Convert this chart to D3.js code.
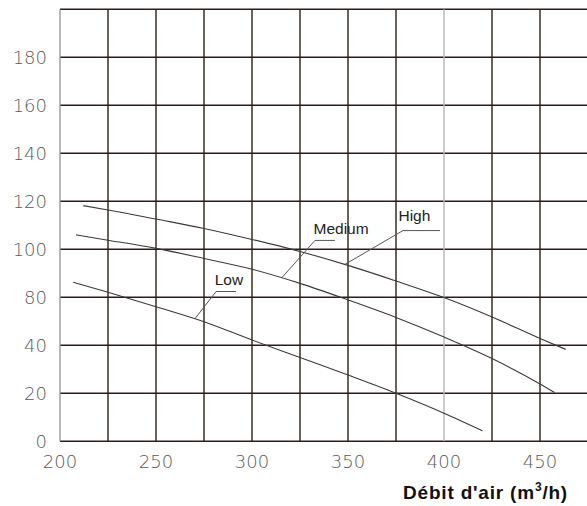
<!DOCTYPE html>
<html>
<head>
<meta charset="utf-8">
<script src="https://cdn.jsdelivr.net/npm/d3@7"></script>
<style>
  body { margin: 0; background: #fff; }
  svg { display: block; }
</style>
</head>
<body>
<div id="chart"></div>
<script>
// chart values
const xGrid = [200, 225, 250, 275, 300, 325, 350, 375, 400, 425, 450, 475];
const xTicks = [200, 250, 300, 350, 400, 450];
const yGrid = [0, 20, 40, 80, 100, 120, 140, 160, 180, 200];
const yTicks = [0, 20, 40, 80, 100, 120, 140, 160, 180];

const highX = [212.1, 225, 250, 275, 300, 325, 350, 375, 400, 425, 450, 463.4];
const highY = [118.2, 116.4, 112.6, 108.7, 104.1, 99.1, 93.3, 86.8, 79.8, 63.6, 45.7, 38.3];
const mediumX = [208.3, 225, 250, 275, 300, 325, 350, 375, 400, 425, 450, 457.6];
const mediumY = [106.0, 103.8, 100.4, 96.2, 91.7, 85.8, 77.8, 63.2, 46.9, 34.5, 23.9, 20.3];
const lowX = [206.9, 225, 250, 275, 300, 325, 350, 375, 400, 420];
const lowY = [86.3, 82.1, 72.2, 59.7, 44.4, 34.9, 27.6, 20, 11.7, 4.4];

const seriesNames = ["High", "Medium", "Low"];
// label anchor and leader points, in data units
const labelPos = [[384.6, 111.9], [346.4, 106.3], [288, 85.2]];
const leaders = [
  [[397.9, 107.8], [378.6, 107.8], [348.4, 93.7]],
  [[343.2, 103.7], [332.8, 103.7], [315.6, 88.2]],
  [[291.7, 82.4], [281.3, 82.4], [270.3, 62.2]]
];

const width = 587, height = 506;
const plotLeft = 60, plotRight = 588, plotBottom = 441.3, plotTop = 9.3;

const svg = d3.select("#chart").append("svg")
    .attr("width", width)
    .attr("height", height);

const x = d3.scaleLinear().domain([200, 475]).range([plotLeft, plotRight]);
// grid rows are evenly spaced although the labels skip 60
const step = (plotBottom - plotTop) / (yGrid.length - 1);
const y = d3.scaleLinear().domain(yGrid).range(yGrid.map((d, i) => plotBottom - i * step));

// horizontal grid
svg.append("g").selectAll("line")
    .data(yGrid)
    .join("line")
    .attr("x1", plotLeft).attr("x2", width)
    .attr("y1", d => y(d)).attr("y2", d => y(d))
    .attr("stroke", "#2e1d18")
    .attr("stroke-width", 1.4);

// vertical grid
svg.append("g").selectAll("line")
    .data(xGrid)
    .join("line")
    .attr("x1", d => x(d)).attr("x2", d => x(d))
    .attr("y1", plotTop).attr("y2", plotBottom)
    .attr("stroke", d => d == 200 ? "#8a8a8a" : (d == 400 ? "#b5b5b5" : "#2e1d18"))
    .attr("stroke-width", d => d == 200 ? 1.2 : 1.4);

// tick labels
svg.append("g").selectAll("text")
    .data(yTicks)
    .join("text")
    .attr("x", plotLeft - 13)
    .attr("y", d => y(d))
    .attr("dy", "0.36em")
    .attr("text-anchor", "end")
    .attr("font-family", "DejaVu Sans")
    .attr("font-weight", 200)
    .attr("font-size", 18)
    .attr("fill", "#5a5a5a")
    .text(d => d);

svg.append("g").selectAll("text")
    .data(xTicks)
    .join("text")
    .attr("x", d => x(d))
    .attr("y", plotBottom + 20)
    .attr("dy", "0.36em")
    .attr("text-anchor", "middle")
    .attr("font-family", "DejaVu Sans")
    .attr("font-weight", 200)
    .attr("font-size", 18)
    .attr("fill", "#5a5a5a")
    .text(d => d);

// axis title
const title = svg.append("text")
    .attr("x", 568)
    .attr("y", 499)
    .attr("text-anchor", "end")
    .attr("font-family", "Liberation Sans, Arial, sans-serif")
    .attr("font-weight", "bold")
    .attr("font-size", 19)
    .attr("letter-spacing", 0.8)
    .attr("fill", "#111");
title.append("tspan").text("Débit d'air (m");
title.append("tspan").attr("font-size", 12).attr("dy", -8).text("3");
title.append("tspan").attr("dy", 8).text("/h)");

// curves
const series = [
  highX.map((d, i) => [d, highY[i]]),
  mediumX.map((d, i) => [d, mediumY[i]]),
  lowX.map((d, i) => [d, lowY[i]])
];

const line = d3.line()
    .x(d => x(d[0]))
    .y(d => y(d[1]))
    .curve(d3.curveMonotoneX);

svg.append("g").selectAll("path")
    .data(series)
    .join("path")
    .attr("d", line)
    .attr("fill", "none")
    .attr("stroke", "#3a3a3a")
    .attr("stroke-width", 1.1);

// labels with leader lines
const leaderLine = d3.line().x(d => x(d[0])).y(d => y(d[1]));
svg.append("g").selectAll("path")
    .data(leaders)
    .join("path")
    .attr("d", leaderLine)
    .attr("fill", "none")
    .attr("stroke", "#555")
    .attr("stroke-width", 1);

svg.append("g").selectAll("text")
    .data(seriesNames)
    .join("text")
    .attr("x", (d, i) => x(labelPos[i][0]))
    .attr("y", (d, i) => y(labelPos[i][1]))
    .attr("text-anchor", "middle")
    .attr("font-family", "Liberation Sans, Arial, sans-serif")
    .attr("font-size", 15.5)
    .attr("fill", "#222")
    .text(d => d);
</script>
</body>
</html>
